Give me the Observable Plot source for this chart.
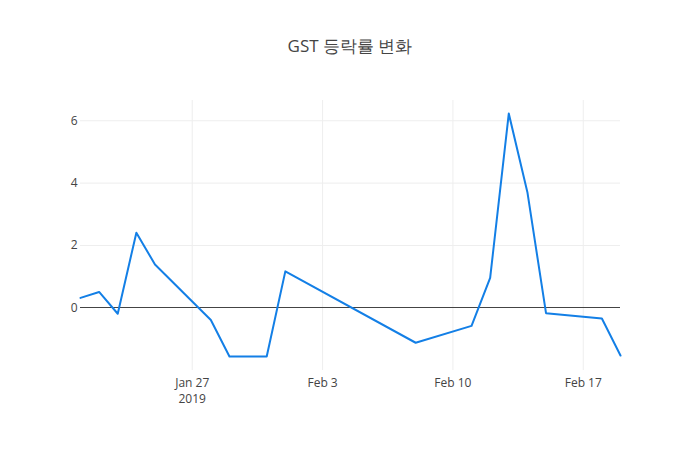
<!DOCTYPE html>
<html>
<head>
<meta charset="utf-8">
<script src="https://cdn.jsdelivr.net/npm/d3@7"></script>
<script src="https://cdn.jsdelivr.net/npm/@observablehq/plot@0.6"></script>
<style>
  html, body { margin: 0; padding: 0; background: #fff; }
  #wrap { width: 700px; }
  #title { height: 70px; box-sizing: border-box; padding-top: 36px; line-height: 20px;
    font-family: "Open Sans", sans-serif; font-size: 17px; color: #444; text-align: center; }
  svg { display: block; }
</style>
</head>
<body>
<div id="wrap">
  <div id="title">GST 등락률 변화</div>
  <div id="chart"></div>
</div>
<script>
const dates = ["2019-01-21","2019-01-22","2019-01-23","2019-01-24","2019-01-25",
  "2019-01-28","2019-01-29","2019-01-30","2019-01-31","2019-02-01",
  "2019-02-08","2019-02-11","2019-02-12","2019-02-13","2019-02-14","2019-02-15",
  "2019-02-18","2019-02-19"];
const changes = [0.32, 0.51, -0.19, 2.41, 1.39,
  -0.39, -1.56, -1.56, -1.56, 1.17,
  -1.12, -0.58, 0.96, 6.23, 3.71, -0.17,
  -0.34, -1.53];
const xTicks = ["2019-01-27","2019-02-03","2019-02-10","2019-02-17"];
const xTickLabels = ["Jan 27\n2019","Feb 3","Feb 10","Feb 17"];
const yTicks = [0, 2, 4, 6];
const xDomain = ["2019-01-21","2019-02-19"];
const yDomain = [-2.01, 6.65];

const data = dates.map((d, i) => ({date: new Date(d + "T00:00:00Z"), value: changes[i]}));
const xTickDates = xTicks.map(d => new Date(d + "T00:00:00Z"));

const chart = Plot.plot({
  width: 700,
  height: 380,
  marginLeft: 80,
  marginRight: 80,
  marginTop: 30,
  marginBottom: 80,
  style: {fontFamily: "'Open Sans', sans-serif", fontSize: "12px", color: "#444", background: "#fff"},
  x: {type: "utc", domain: xDomain.map(d => new Date(d + "T00:00:00Z"))},
  y: {domain: yDomain},
  marks: [
    Plot.ruleX(xTickDates, {stroke: "#eee", strokeWidth: 1, strokeOpacity: 1}),
    Plot.ruleY(yTicks.filter(v => v !== 0), {stroke: "#eee", strokeWidth: 1, strokeOpacity: 1}),
    Plot.ruleY([0], {stroke: "#444", strokeWidth: 1, strokeOpacity: 1, shapeRendering: "crispEdges"}),
    Plot.line(data, {x: "date", y: "value", stroke: "#137fe6", strokeWidth: 2, strokeLinejoin: "round"}),
    Plot.axisX({ticks: xTickDates, tickFormat: (d, i) => xTickLabels[i], tickSize: 0, tickPadding: 5, lineHeight: 1.35, label: null, fill: "#444", fontSize: 12}),
    Plot.axisY({ticks: yTicks, tickSize: 0, tickPadding: 3, label: null, fill: "#444", fontSize: 12})
  ]
});
document.getElementById("chart").appendChild(chart);
</script>
</body>
</html>
